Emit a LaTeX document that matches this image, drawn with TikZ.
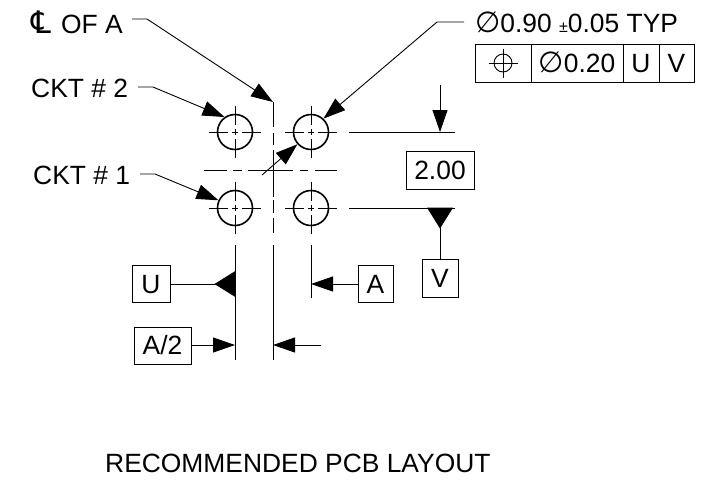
\documentclass[tikz,border=0pt]{standalone}
\usepackage{fontspec}
\setmainfont{Liberation Sans}
\newfontfamily\symfont{DejaVu Sans}
\usetikzlibrary{arrows.meta}
\newcommand{\dia}{{\symfont\fontsize{29}{30}\selectfont ∅}}
\tikzset{
	lbl/.style={inner sep=0pt,anchor=base west,font=\fontsize{26.4}{30}\selectfont},
	box/.style={draw,line width=0.9pt,inner sep=0pt,text height=18.5pt,text depth=0pt,font=\fontsize{26.4}{30}\selectfont},
	pad/.style={draw,circle,line width=1.6pt,minimum size=35pt,inner sep=0pt},
	padmark/.style={line width=0.9pt,dash pattern=on 19pt off 4pt on 6pt off 4pt on 19pt},
	leader/.style={line width=0.9pt,-{Triangle[length=22pt,width=15pt]}},
	dimln/.style={line width=0.9pt},
	datum/.style={line width=1pt,-{Triangle[reversed,length=21pt,width=26pt]}}
}
\begin{document}
\begin{tikzpicture}[x=1pt,y=-1pt]
	\useasboundingbox (0,0) rectangle (709,480);
	% pads
	\foreach \pname/\px/\py in {padTL/235/132,padTR/311/132,padBL/235/208,padBR/311/208}{
		\node[pad] (\pname) at (\px,\py) {};
		\draw[padmark] (\pname.center) ++(-26,0) -- ++(52,0);
		\draw[padmark] (\pname.center) ++(0,-26) -- ++(0,52);
	}
	% centre lines
	\coordinate (cvTop) at (273,102);
	\coordinate (cvEnd) at (273,233);
	\coordinate (chLeft) at (204,170);
	\coordinate (chRight) at (337,170);
	\draw[line width=0.9pt,dash pattern=on 25pt off 6pt on 12pt off 5pt on 47pt off 3pt on 13pt off 5pt on 15pt] (cvTop) -- (cvEnd);
	\draw[line width=0.9pt,dash pattern=on 23pt off 6pt on 9pt off 6pt on 45pt off 7pt on 8pt off 7pt on 22pt] (chLeft) -- (chRight);
	% labels
	\node[lbl] (lblCL) at (31,33) {{\symfont\fontsize{31}{30}\selectfont ℄}\hspace{10pt}OF A};
	\node[lbl] (lblCktTwo) at (31,97) {CKT \# 2};
	\node[lbl] (lblCktOne) at (33,184) {CKT \# 1};
	\node[lbl] (lblDia) at (475,32) {\dia 0.90 {\fontsize{16}{20}\selectfont ±}0.05 TYP};
	\node[lbl] (lblTitle) at (105,472) {RECOMMENDED PCB LAYOUT};
	% leaders
	\coordinate (ldCL) at (132,19);
	\coordinate (ldCktTwo) at (138,87);
	\coordinate (ldCktOne) at (140,174);
	\coordinate (ldDia) at (464,22);
	\coordinate (ldGap) at (262,175);
	\draw[leader] (ldCL) -- ++(15,0) -- (cvTop);
	\draw[leader] (ldCktTwo) -- ++(15,0) -- (padTL.125);
	\draw[leader] (ldCktOne) -- ++(15,0) -- (padBL.155);
	\draw[leader] (ldDia) -- ++(-27,0) -- (padTR.47);
	\draw[leader] (ldGap) -- (padTR.222);
	% feature control frame
	\node[box,minimum width=56pt,minimum height=38pt] (fcfSym) at (503,63) {};
	\node[box,minimum width=92pt,minimum height=38pt] (fcfTol) at (577,63) {\dia 0.20};
	\node[box,minimum width=36pt,minimum height=38pt] (fcfU) at (641,63) {U};
	\node[box,minimum width=35pt,minimum height=38pt] (fcfV) at (676.5,63) {V};
	\node[draw,circle,line width=0.9pt,minimum size=18pt,inner sep=0pt] (fcfPos) at (fcfSym) {};
	\draw[dimln] (fcfPos.center) ++(-14.5,0) -- ++(29,0);
	\draw[dimln] (fcfPos.center) ++(0,-14.5) -- ++(0,29);
	% dimension 2.00
	\coordinate (extTopL) at (349,132);
	\coordinate (extTopR) at (455,132);
	\coordinate (extBotL) at (349,208);
	\coordinate (extBotR) at (455,208);
	\coordinate (dimTop) at (440,85);
	\coordinate (dimTip) at (440,132);
	\coordinate (datV) at (440,207.5);
	\draw[dimln] (extTopL) -- (extTopR);
	\draw[dimln] (extBotL) -- (extBotR);
	\draw[leader] (dimTop) -- (dimTip);
	\node[box,minimum width=68pt,minimum height=38pt] (boxDim) at (440,170) {2.00};
	\node[box,minimum width=36pt,minimum height=38pt] (boxV) at (440,278) {V};
	\draw[datum] (boxV) -- (datV);
	% lower extension lines
	\coordinate (extUT) at (235,245);
	\coordinate (extUB) at (235,360);
	\coordinate (extCT) at (273,245);
	\coordinate (extCB) at (273,360);
	\coordinate (extAT) at (311,245);
	\coordinate (extAB) at (311,298);
	\draw[dimln] (extUT) -- (extUB);
	\draw[dimln] (extCT) -- (extCB);
	\draw[dimln] (extAT) -- (extAB);
	\node[box,minimum width=38pt,minimum height=37pt] (boxU) at (151,284) {U};
	\node[box,minimum width=35pt,minimum height=37pt] (boxA) at (375.5,284) {A};
	\node[box,minimum width=57pt,minimum height=37pt] (boxHalf) at (162.5,345.5) {A/2};
	\coordinate (datU) at (235.5,284);
	\coordinate (tipA) at (311,284);
	\coordinate (tipHalfL) at (235,345);
	\coordinate (tipHalfR) at (273,345);
	\coordinate (tailHalfR) at (321,345);
	\draw[datum] (boxU) -- (datU);
	\draw[leader] (boxA) -- (tipA);
	\draw[leader] (boxHalf.east |- tipHalfL) -- (tipHalfL);
	\draw[leader] (tailHalfR) -- (tipHalfR);
\end{tikzpicture}
\end{document}
